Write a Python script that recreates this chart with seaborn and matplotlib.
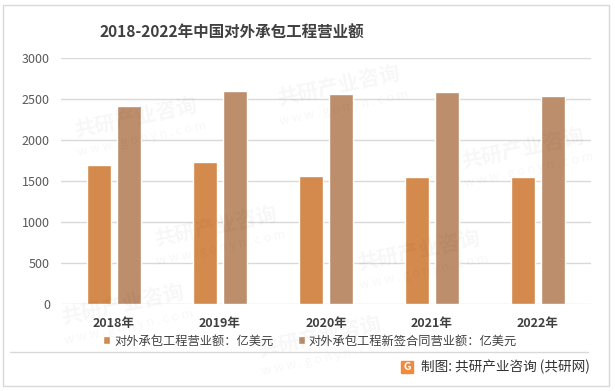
import matplotlib

matplotlib.use("Agg")
import matplotlib.pyplot as plt
import pandas as pd
import seaborn as sns
from matplotlib.patches import Rectangle

# data
YEARS = ["2018年", "2019年", "2020年", "2021年", "2022年"]
REVENUE = [1690.4, 1729.0, 1559.4, 1549.4, 1549.9]
NEW_CONTRACTS = [2418.0, 2602.5, 2555.4, 2584.9, 2530.7]
SERIES = ["对外承包工程营业额：亿美元", "对外承包工程新签合同营业额：亿美元"]
COLORS = ["#D48A4C", "#BC8E6C"]
TITLE = "2018-2022年中国对外承包工程营业额"
SOURCE = "制图: 共研产业咨询 (共研网)"

FONTS = ["Noto Sans CJK SC", "DejaVu Sans"]

sns.set_theme(style="white")
plt.rcParams["font.family"] = FONTS

df = pd.DataFrame(
    {
        "Year": YEARS * 2,
        "Value": REVENUE + NEW_CONTRACTS,
        "Series": [SERIES[0]] * len(YEARS) + [SERIES[1]] * len(YEARS),
    }
)

fig = plt.figure(figsize=(6.15, 3.91), dpi=100)
ax = fig.add_axes([61 / 615, 87 / 391, 530 / 615, 246 / 391])

# faint watermark, kept inside the frame
for wx, wy in [(0.22, 0.70), (0.55, 0.78), (0.85, 0.62),
               (0.35, 0.42), (0.68, 0.36), (0.20, 0.22), (0.52, 0.14)]:
    fig.text(wx, wy, "共研产业咨询", fontsize=15, fontweight="bold",
             color="#000000", alpha=0.035, rotation=12,
             ha="center", va="center", zorder=0)
    fig.text(wx + 0.01, wy - 0.055, "w w w . g o n y n . c o m",
             fontsize=9, color="#000000", alpha=0.035, rotation=12,
             ha="center", va="center", zorder=0)

sns.barplot(
    data=df,
    x="Year",
    y="Value",
    hue="Series",
    palette=COLORS,
    width=0.566,
    gap=0.2,
    saturation=1,
    ax=ax,
    zorder=3,
)

ax.set_xlim(-0.5, len(YEARS) - 0.5)
ax.set_ylim(0, 3000)
ax.set_yticks(range(0, 3001, 500))
ax.yaxis.grid(True, color="#D9D9D9", linewidth=1)
ax.set_axisbelow(True)
for s in ax.spines.values():
    s.set_visible(False)
ax.set_xlabel("")
ax.set_ylabel("")
ax.tick_params(axis="y", length=0, pad=8, labelsize=9, labelcolor="#595959")
ax.tick_params(axis="x", length=0, pad=9, labelsize=9, labelcolor="#404040")
for lbl in ax.get_xticklabels():
    lbl.set_fontweight("bold")
ax.patch.set_alpha(0)

ax.legend(
    loc="center",
    bbox_to_anchor=(310 / 615, 0.128),
    bbox_transform=fig.transFigure,
    ncol=2,
    frameon=False,
    fontsize=8.8,
    handlelength=0.6,
    handleheight=0.6,
    handletextpad=0.3,
    columnspacing=2.0,
    labelcolor="#404040",
)

fig.text(232 / 615, 1 - 33 / 391, TITLE, fontsize=11.2, fontweight="bold",
         color="#404040", ha="center", va="center")

# footer separator and source
fig.add_artist(plt.Line2D([10 / 615, 588 / 615], [1 - 352 / 391] * 2,
                          color="#D9D9D9", linewidth=1))
fig.add_artist(Rectangle((401 / 615, 1 - 373 / 391), 12 / 615, 12 / 391,
                         color="#F08A3C", transform=fig.transFigure))
fig.text(407 / 615, 1 - 367 / 391, "G", fontsize=7.5, fontweight="bold",
         color="white", ha="center", va="center")
fig.text(590 / 615, 1 - 367 / 391, SOURCE, fontsize=9.8, color="#333333",
         ha="right", va="center")

# outer border
fig.add_artist(Rectangle((3 / 615, 5 / 391), 606 / 615, 381 / 391, fill=False,
                         edgecolor="#D9D9D9", linewidth=1,
                         transform=fig.transFigure))

fig.savefig("out.png", dpi=100)
